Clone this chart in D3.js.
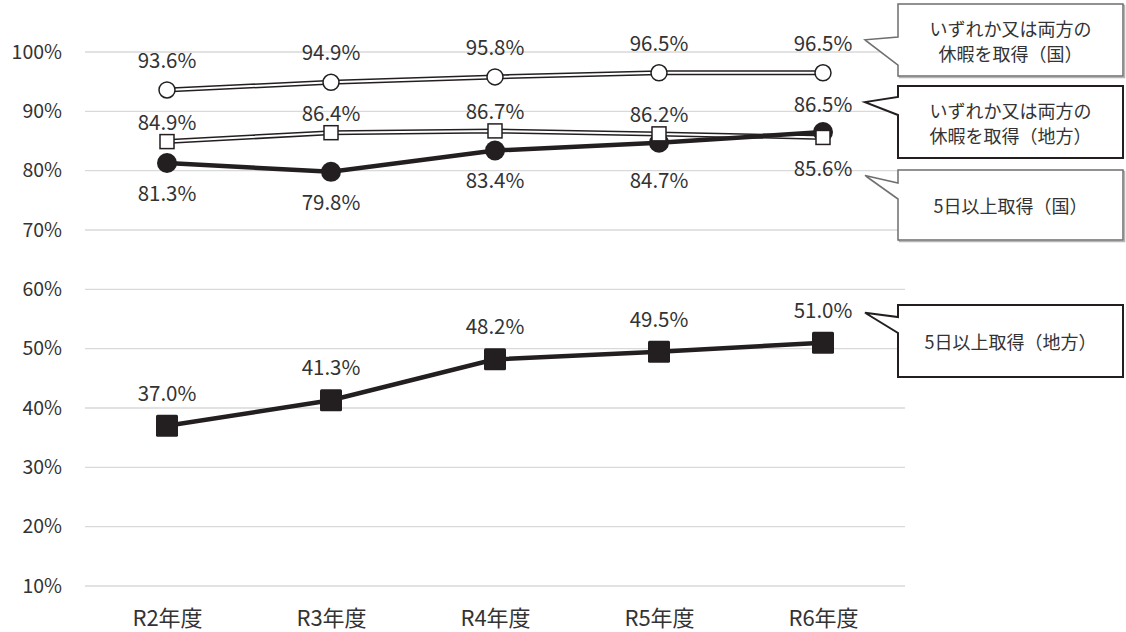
<!DOCTYPE html>
<html>
<head>
<meta charset="utf-8">
<script src="https://cdn.jsdelivr.net/npm/d3@7"></script>
<style>
body { margin: 0; background: #fff; }
svg { display: block; font-family: "Noto Sans CJK JP", "Noto Sans", sans-serif; }
</style>
</head>
<body>
<script>
// data
const categories = ["R2年度", "R3年度", "R4年度", "R5年度", "R6年度"];
const bothNational = [93.6, 94.9, 95.8, 96.5, 96.5];
const bothLocal = [84.9, 86.4, 86.7, 86.2, 85.6];
const fiveNational = [81.3, 79.8, 83.4, 84.7, 86.5];
const fiveLocal = [37.0, 41.3, 48.2, 49.5, 51.0];
const yTicks = [10, 20, 30, 40, 50, 60, 70, 80, 90, 100];
const calloutTexts = [
	["いずれか又は両方の", "休暇を取得（国）"],
	["いずれか又は両方の", "休暇を取得（地方）"],
	["5日以上取得（国）"],
	["5日以上取得（地方）"]
];

const width = 1126, height = 632;
const ink = "#231f20", textCol = "#333";

const svg = d3.select("body").append("svg")
	.attr("width", width).attr("height", height);

const x = d3.scalePoint().domain(categories).range([85, 905]).padding(0.5);
const y = d3.scaleLinear().domain([10, 100]).range([586, 52]);

// grid
svg.append("g").selectAll("line").data(yTicks).enter().append("line")
	.attr("x1", 85).attr("x2", 905)
	.attr("y1", d => y(d)).attr("y2", d => y(d))
	.attr("stroke", "#d9d9d9").attr("stroke-width", 1.3);

// y axis
const yAxis = svg.append("g").attr("transform", "translate(85,0)")
	.call(d3.axisLeft(y).tickValues(yTicks).tickFormat(d => d + "%").tickSize(0).tickPadding(23));
yAxis.select(".domain").remove();
yAxis.selectAll("text").attr("font-size", 19.5).attr("fill", textCol)
	.attr("font-family", "'Noto Sans CJK JP', sans-serif");

// x axis
const xAxis = svg.append("g").attr("transform", "translate(0,586)")
	.call(d3.axisBottom(x).tickSize(0).tickPadding(24));
xAxis.select(".domain").remove();
xAxis.selectAll("text").attr("font-size", 22).attr("fill", textCol)
	.attr("font-family", "'Noto Sans CJK JP', sans-serif");

const line = d3.line().x((d, i) => x(categories[i])).y(d => y(d));

// double lines (outlined white)
[bothNational, bothLocal].forEach(function(s){
	svg.append("path").datum(s).attr("d", line).attr("fill", "none")
		.attr("stroke", ink).attr("stroke-width", 5);
	svg.append("path").datum(s).attr("d", line).attr("fill", "none")
		.attr("stroke", "#fff").attr("stroke-width", 2);
});
// thick lines
[fiveNational, fiveLocal].forEach(function(s){
	svg.append("path").datum(s).attr("d", line).attr("fill", "none")
		.attr("stroke", ink).attr("stroke-width", 4.5);
});

// markers
svg.append("g").selectAll("circle").data(fiveNational).enter().append("circle")
	.attr("cx", (d, i) => x(categories[i])).attr("cy", d => y(d))
	.attr("r", 10).attr("fill", ink);
svg.append("g").selectAll("rect").data(fiveLocal).enter().append("rect")
	.attr("x", (d, i) => x(categories[i]) - 11).attr("y", d => y(d) - 11)
	.attr("width", 22).attr("height", 22).attr("rx", 1.5).attr("fill", ink);
svg.append("g").selectAll("rect").data(bothLocal).enter().append("rect")
	.attr("x", (d, i) => x(categories[i]) - 7).attr("y", d => y(d) - 7)
	.attr("width", 14).attr("height", 14)
	.attr("fill", "#fff").attr("stroke", ink).attr("stroke-width", 1.5);
svg.append("g").selectAll("circle").data(bothNational).enter().append("circle")
	.attr("cx", (d, i) => x(categories[i])).attr("cy", d => y(d))
	.attr("r", 8).attr("fill", "#fff").attr("stroke", ink).attr("stroke-width", 1.5);

// data labels
function labels(series, offset){
	svg.append("g").selectAll("text").data(series).enter().append("text")
		.attr("x", (d, i) => x(categories[i]))
		.attr("y", (d, i) => y(d) + offset(i))
		.attr("text-anchor", "middle").attr("dominant-baseline", "central")
		.attr("font-size", 20.5).attr("fill", textCol)
		.text(d => d.toFixed(1) + "%");
}
labels(bothNational, i => -31);
labels(bothLocal, i => i == 4 ? 30 : -21);
labels(fiveNational, i => i == 4 ? -29 : (i == 3 ? 36 : 29));
labels(fiveLocal, i => -34);

// callouts
const boxes = [
	{top: 4, bottom: 76, j1: 37, j2: 65, ty: y(bothNational[4]) - 33, heavy: false},
	{top: 86, bottom: 158, j1: 97, j2: 115, ty: y(fiveNational[4]) - 30, heavy: true},
	{top: 170, bottom: 240, j1: 183, j2: 199, ty: y(bothLocal[4]) + 38, heavy: false},
	{top: 305, bottom: 377, j1: 317, j2: 333, ty: y(fiveLocal[4]) - 30, heavy: true}
];
const bl = 898, br = 1123;
const tx = x(categories[4]) + 42;
boxes.forEach(function(b, k){
	const p = `M${bl},${b.top} L${br},${b.top} L${br},${b.bottom} L${bl},${b.bottom} L${bl},${b.j2} L${tx},${b.ty} L${bl},${b.j1} Z`;
	if (!b.heavy) {
		svg.append("path").attr("d", p).attr("transform", "translate(1.5,1.5)")
			.attr("fill", "none").attr("stroke", "#b5b5b5").attr("stroke-width", 1.5);
	}
	svg.append("path").attr("d", p).attr("fill", "#fff")
		.attr("stroke", b.heavy ? ink : "#6e6e6e").attr("stroke-width", b.heavy ? 2 : 1.5)
		.attr("stroke-linejoin", "miter");
	const lines = calloutTexts[k];
	const cy = (b.top + b.bottom) / 2;
	lines.forEach(function(t, j){
		svg.append("text").attr("x", (bl + br) / 2)
			.attr("y", cy + (j - (lines.length - 1) / 2) * 25)
			.attr("text-anchor", "middle").attr("dominant-baseline", "central")
			.attr("font-size", 18).attr("fill", textCol).text(t);
	});
});
</script>
</body>
</html>
